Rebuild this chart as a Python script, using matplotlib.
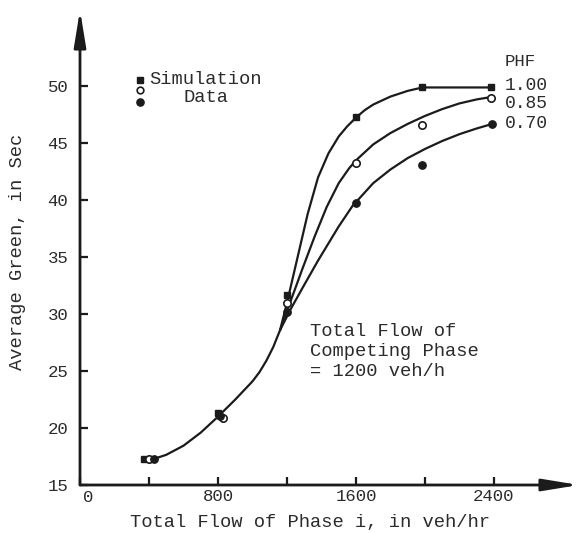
import matplotlib
matplotlib.use("Agg")
import matplotlib.pyplot as plt

W, H, DPI = 579, 533, 100
INK = "#1b1b1b"
TXT = "#2b2b2b"
MONO = ["Liberation Mono", "DejaVu Sans Mono"]

# Simulation data: total flow of phase i (veh/hr) vs average green (sec)
x_phf100 = [370, 800, 1200, 1600, 1985, 2380]
y_phf100 = [17.3, 21.3, 31.7, 47.3, 49.9, 49.9]
x_phf085 = [400, 830, 1200, 1600, 1985, 2380]
y_phf085 = [17.3, 20.9, 31.0, 43.3, 46.6, 49.0]
x_phf070 = [430, 810, 1200, 1600, 1985, 2390]
y_phf070 = [17.3, 21.1, 30.2, 39.8, 43.1, 46.7]

# Fitted curves: one shared lower branch, then one branch per PHF
x_common = [430, 500, 600, 700, 800, 900, 1000, 1040, 1080, 1120, 1160]
y_common = [17.3, 17.65, 18.45, 19.6, 21.0, 22.5, 24.1, 24.9, 25.9, 27.1, 28.6]
x_fit100 = [1160, 1200, 1260, 1320, 1380, 1440, 1500, 1550, 1600, 1650, 1700, 1800, 1900,
            1985, 2380]
y_fit100 = [28.6, 31.0, 34.9, 38.8, 42.0, 44.1, 45.6, 46.5, 47.25, 47.9, 48.4, 49.1, 49.6,
            49.9, 49.9]
x_fit085 = [1160, 1220, 1290, 1360, 1430, 1500, 1560, 1600, 1700, 1800, 1900, 2000, 2100,
            2200, 2300, 2380]
y_fit085 = [28.6, 31.1, 34.0, 36.8, 39.4, 41.5, 42.8, 43.5, 44.9, 45.9, 46.7, 47.4, 48.0,
            48.5, 48.85, 49.05]
x_fit070 = [1160, 1220, 1290, 1380, 1440, 1500, 1580, 1700, 1800, 1900, 2000, 2100, 2200,
            2300, 2390]
y_fit070 = [28.6, 30.4, 32.3, 34.7, 36.2, 37.7, 39.5, 41.5, 42.7, 43.7, 44.5, 45.2, 45.8,
            46.3, 46.7]

phf_labels = ["1.00", "0.85", "0.70"]
y_ticks = [15, 20, 25, 30, 35, 40, 45, 50]
x_ticks = [0, 400, 800, 1200, 1600, 2000, 2400]
x_ticklabels = ["", "", "800", "", "1600", "", "2400"]


def fx(px):
    return px / W


def fy(py):
    return 1 - py / H


fig = plt.figure(figsize=(W / DPI, H / DPI), dpi=DPI)
fig.patch.set_facecolor("white")
ax = fig.add_axes([fx(80), fy(485), fx(579) - fx(80), fy(10) - fy(485)])
ax.set_xlim(0, 2893)
ax.set_ylim(15, 56.7)
for s in ax.spines.values():
    s.set_visible(False)
ax.patch.set_alpha(0)

# arrowed axes
arrow = dict(arrowstyle="-|>,head_length=2.2,head_width=0.36", color=INK, lw=2.0,
             shrinkA=0, shrinkB=0, mutation_scale=10)
ax.annotate("", xy=(1, 0), xytext=(0, 0), xycoords="axes fraction",
            textcoords="axes fraction", arrowprops=arrow, annotation_clip=False)
ax.annotate("", xy=(0, 1), xytext=(0, 0), xycoords="axes fraction",
            textcoords="axes fraction", arrowprops=arrow, annotation_clip=False)

ax.set_yticks(y_ticks)
ax.set_yticklabels([str(v) for v in y_ticks])
ax.set_xticks(x_ticks)
ax.set_xticklabels(x_ticklabels)
ax.tick_params(axis="both", direction="in", length=6, width=1.6, color=INK,
               labelcolor=TXT, labelsize=12.5)
ax.tick_params(axis="y", pad=8.5)
ax.tick_params(axis="x", pad=3)
for lab in ax.get_xticklabels() + ax.get_yticklabels():
    lab.set_family(MONO)
ax.text(50, 15 - 0.45, "0", ha="center", va="top", fontsize=12.5, family=MONO,
        color=TXT)

# curves
lw = 1.6
for xs, ys in [(x_common, y_common), (x_fit100, y_fit100),
               (x_fit085, y_fit085), (x_fit070, y_fit070)]:
    ax.plot(xs, ys, color=INK, lw=lw, solid_capstyle="round",
            solid_joinstyle="round", clip_on=False)

# simulation points
ax.plot(x_phf100, y_phf100, ls="none", marker="s", ms=4.8, mfc=INK, mec=INK, zorder=5)
ax.plot(x_phf085, y_phf085, ls="none", marker="o", ms=5.3, mfc="white", mec=INK,
        mew=1.2, zorder=5)
ax.plot(x_phf070, y_phf070, ls="none", marker="o", ms=5.3, mfc=INK, mec=INK, zorder=5)

# legend markers
ax.plot([0.1205], [0.8526], transform=ax.transAxes, marker="s", ms=4.3, color=INK,
        clip_on=False)
ax.plot([0.1205], [0.8316], transform=ax.transAxes, marker="o", ms=4.8, mfc="white",
        mec=INK, mew=1.2, clip_on=False)
ax.plot([0.1205], [0.8063], transform=ax.transAxes, marker="o", ms=5.2, color=INK,
        clip_on=False)

tkw = dict(family=MONO, color=TXT, fontsize=13.5)
fig.text(fx(149), fy(80), "Simulation", ha="left", va="center", **tkw)
fig.text(fx(206), fy(98), "Data", ha="center", va="center", **tkw)

fig.text(fx(505), fy(61), "PHF", ha="left", va="center", **dict(tkw, fontsize=12.5))
for lab, py in zip(phf_labels, [86, 104, 123]):
    fig.text(fx(505), fy(py), lab, ha="left", va="center", **dict(tkw, fontsize=13))

fig.text(fx(310), fy(332), "Total Flow of", ha="left", va="center", **tkw)
fig.text(fx(310), fy(352), "Competing Phase", ha="left", va="center", **tkw)
fig.text(fx(310), fy(372), "= 1200 veh/h", ha="left", va="center", **tkw)

fig.text(fx(310), fy(522), "Total Flow of Phase i, in veh/hr", ha="center",
         va="center", **tkw)
fig.text(fx(18), fy(252), "Average Green, in Sec", ha="center", va="center",
         rotation=90, **tkw)

fig.savefig("out.png", dpi=DPI, facecolor="white")
